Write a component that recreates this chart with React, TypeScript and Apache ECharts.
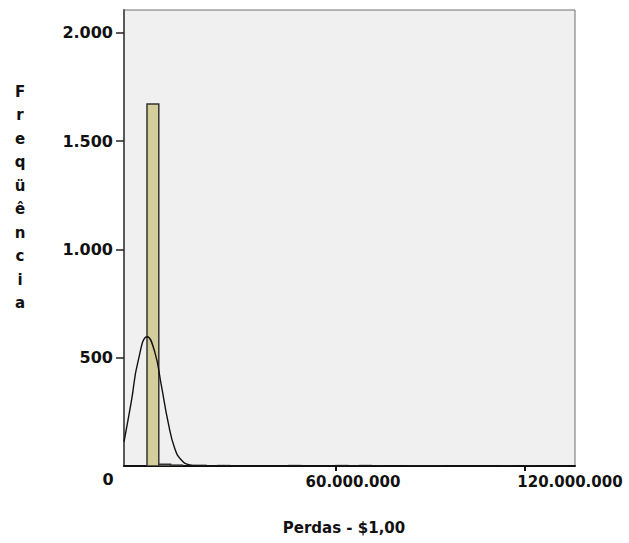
import React, { useEffect, useRef } from "react";
import * as echarts from "echarts";

// Histogram: bin width (in $) and bins (index of bin from 0, count)
const binWidth = 3750000;
const binIndex = [0, 1, 2, 4, 6, 12, 16, 17, 18, 19, 22, 23, 24, 30, 32];
const binCounts = [1672, 8, 4, 3, 2, 2, 2, 1, 2, 1, 1, 1, 1, 1, 1];

// Normal curve points: x in $, y in frequency
const curveX = [-7300000, -4980000, -2860000, 100000, 2440000, 4540000, 6670000, 8790000, 10900000, 13600000, 16800000, 135900000];
const curveY = [112, 297, 482, 597, 528, 374, 205, 82, 28, 5, 0, 0];

const yTicks = [500, 1000, 1500, 2000];
const xTicks = [60000000, 120000000];
const xMin = -7300000;
const xMax = 135900000;
const yMax = 2106;

const yTitle = "Freqüência";
const xTitle = "Perdas - $1,00";

const fmt = (v: number) => String(Math.round(v)).replace(/\B(?=(\d{3})+(?!\d))/g, ".");

const FONT = "DejaVu Sans";

export default function App() {
  const ref = useRef<HTMLDivElement>(null);
  useEffect(() => {
    if (!ref.current) return;
    const chart = echarts.init(ref.current, null, { renderer: "svg" });
    const histData = binIndex.map((k, i) => [k * binWidth, (k + 1) * binWidth, binCounts[i]]);
    const curveData = curveX.map((x, i) => [x, curveY[i]]);
    chart.setOption({
      animation: false,
      backgroundColor: "#ffffff",
      grid: {
        left: 124,
        right: 54,
        top: 10,
        bottom: 77,
        show: true,
        backgroundColor: "#f0f0f0",
        borderColor: "#6e6e6e",
        borderWidth: 1,
      },
      xAxis: {
        type: "value",
        min: xMin,
        max: xMax,
        splitLine: { show: false },
        axisLine: { show: true, onZero: false, lineStyle: { color: "#111", width: 2 } },
        axisTick: { show: true, customValues: xTicks, length: 5, lineStyle: { color: "#111", width: 2 } },
        axisLabel: {
          customValues: xTicks,
          margin: 8,
          formatter: (v: number) => (v === xTicks[0] ? `{a|${fmt(v)}}` : `{b|${fmt(v)}}`),
          rich: {
            a: { fontFamily: FONT, fontWeight: "bold", fontSize: 15, color: "#111", padding: [0, 0, 0, 34] },
            b: { fontFamily: FONT, fontWeight: "bold", fontSize: 15, color: "#111", padding: [0, 0, 0, 90] },
          },
        },
      },
      yAxis: {
        type: "value",
        min: 0,
        max: yMax,
        splitLine: { show: false },
        axisLine: { show: true, onZero: false, lineStyle: { color: "#5a5a5a", width: 2 } },
        axisTick: { show: true, customValues: yTicks, length: 8, lineStyle: { color: "#222", width: 1.5 } },
        axisLabel: {
          customValues: yTicks,
          margin: 11,
          formatter: (v: number) => fmt(v),
          fontFamily: FONT,
          fontWeight: "bold",
          fontSize: 16,
          color: "#111",
        },
      },
      series: [
        {
          type: "custom",
          data: histData,
          encode: { x: [0, 1], y: 2 },
          clip: true,
          renderItem: (params: any, api: any) => {
            const s = api.value(0);
            const e = api.value(1);
            const c = api.value(2);
            const p0 = api.coord([s, c]);
            const p1 = api.coord([e, 0]);
            return {
              type: "rect",
              shape: { x: p0[0], y: p0[1], width: p1[0] - p0[0], height: p1[1] - p0[1] },
              style: { fill: "#d4cf9a", stroke: "#333333", lineWidth: 1.5 },
            };
          },
          z: 2,
        },
        {
          type: "line",
          data: curveData,
          smooth: 0.5,
          symbol: "none",
          clip: true,
          lineStyle: { color: "#111", width: 1.4 },
          z: 3,
        },
      ],
      graphic: [
        {
          type: "text",
          x: 20,
          y: 80,
          style: {
            text: yTitle.split("").join("\n"),
            textAlign: "center",
            lineHeight: 23.5,
            font: `bold 15px "${FONT}"`,
            fill: "#111",
          },
        },
        {
          type: "text",
          x: 344,
          y: 528,
          style: {
            text: xTitle,
            textAlign: "center",
            textVerticalAlign: "middle",
            font: `bold 15px "${FONT}"`,
            fill: "#111",
          },
        },
        {
          type: "text",
          x: 108,
          y: 479,
          style: {
            text: "0",
            textAlign: "center",
            textVerticalAlign: "middle",
            font: `bold 16px "${FONT}"`,
            fill: "#111",
          },
        },
      ],
    });
    return () => chart.dispose();
  }, []);
  return <div ref={ref} style={{ position: "fixed", left: 0, top: 0, width: 629, height: 543 }} />;
}
